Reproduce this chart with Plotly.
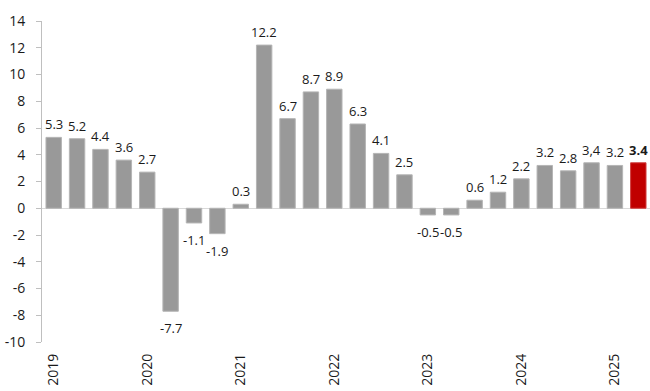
import plotly.graph_objects as go

years = ["2019", "2020", "2021", "2022", "2023", "2024", "2025"]
quarters = ["Q1", "Q2", "Q3", "Q4"]
categories = [f"{y} {q}" for y in years for q in quarters][:26]
values = [5.3, 5.2, 4.4, 3.6, 2.7, -7.7, -1.1, -1.9, 0.3, 12.2, 6.7, 8.7, 8.9,
          6.3, 4.1, 2.5, -0.5, -0.5, 0.6, 1.2, 2.2, 3.2, 2.8, 3.4, 3.2, 3.4]
labels = ["5.3", "5.2", "4.4", "3.6", "2.7", "-7.7", "-1.1", "-1.9", "0.3", "12.2",
          "6.7", "8.7", "8.9", "6.3", "4.1", "2.5", "-0.5", "-0.5", "0.6", "1.2",
          "2.2", "3.2", "2.8", "3,4", "3.2", "<b>3.4</b>"]
tick_vals = [f"{y} Q1" for y in years]
tick_text = years
y_tick_vals = [-10, -8, -6, -4, -2, 0, 2, 4, 6, 8, 10, 12, 14]
y_tick_text = ["-10", "-8", "-6", "-4", "-2", "0", "2", "4", "6", "8", "10", "12", "14"]

GRAY = "#999999"
RED = "#C00000"
colors = [GRAY] * (len(values) - 1) + [RED]
line_colors = ["#B5B5B5"] * (len(values) - 1) + ["#D04040"]

fig = go.Figure()
fig.add_trace(go.Bar(
    x=categories, y=values,
    marker=dict(color=colors, line=dict(color=line_colors, width=1)),
    width=0.66, hoverinfo="skip",
))

for c, v, t in zip(categories, values, labels):
    fig.add_annotation(
        x=c, y=v, text=t, showarrow=False,
        yanchor="middle", xanchor="center",
        yshift=13 if v >= 0 else -17,
        font=dict(family="Open Sans", size=13, color="#1a1a1a"),
    )

fig.update_layout(
    width=650, height=391,
    margin=dict(l=42, r=0, t=21, b=49),
    paper_bgcolor="white", plot_bgcolor="white",
    showlegend=False,
    font=dict(family="Open Sans", size=14, color="#1a1a1a"),
)
fig.update_xaxes(
    type="category", range=[-0.5, 25.5],
    tickmode="array", tickvals=tick_vals, ticktext=tick_text,
    tickangle=-90, showgrid=False, showline=False, ticks="",
    tickfont=dict(size=14), ticklabelstandoff=8, automargin=False,
)
fig.update_yaxes(
    range=[-10, 14], tickmode="array", tickvals=y_tick_vals, ticktext=y_tick_text,
    showgrid=False, showline=True, linecolor="#BFBFBF", linewidth=1,
    ticks="outside", ticklen=5, tickcolor="#BFBFBF",
    zeroline=True, zerolinecolor="#D9D9D9", zerolinewidth=1,
    tickfont=dict(size=14), ticklabelstandoff=8, automargin=False,
)

fig.write_html(
    "out.html",
    config={"displayModeBar": False},
    post_script="document.body.style.margin='0';document.body.style.overflow='hidden';",
)
